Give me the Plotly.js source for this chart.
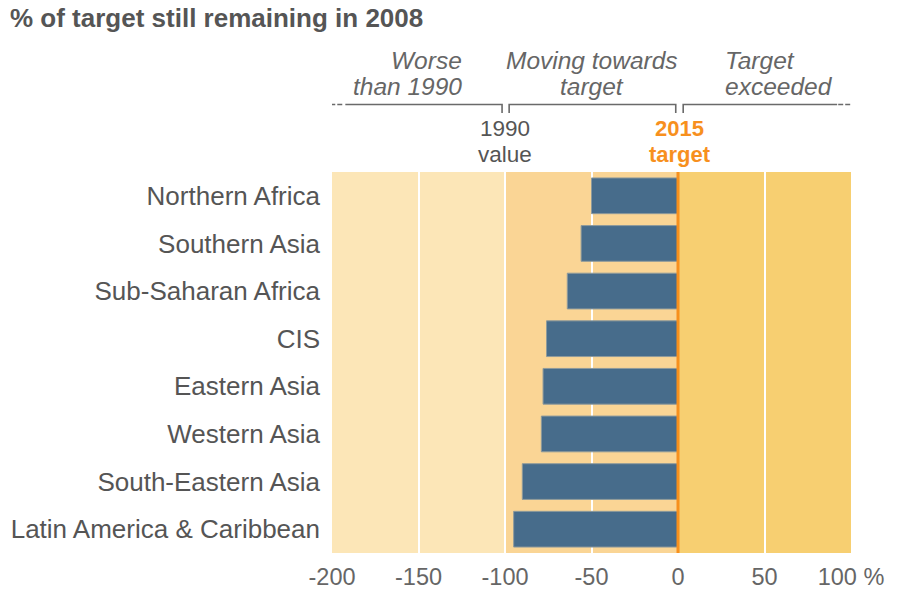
<!DOCTYPE html>
<html>
<head>
<meta charset="utf-8">
<script src="https://cdn.plot.ly/plotly-3.0.1.min.js"></script>
<style>html,body{margin:0;padding:0;background:#fff;}#chart{width:902px;height:591px;}</style>
</head>
<body>
<div id="chart"></div>
<script>
const regions = ["Northern Africa","Southern Asia","Sub-Saharan Africa","CIS","Eastern Asia","Western Asia","South-Eastern Asia","Latin America & Caribbean"];
const remaining = [-50,-56,-64,-76,-78,-79,-90,-95];
const tickValues = [-200,-150,-100,-50,0,50,100];
const tickLabels = ["-200","-150","-100","-50","0","50","100 %"];
const zoneBounds = [-200,-100,0,100];
const zoneColors = ["#FCE6B7","#FAD595","#F7CF71"];

const FONT = "Liberation Sans, Arial, Helvetica, sans-serif";
const GREY = "#555555";
const pY = py => (553 - py) / 381; // paper y from pixel for annotations/brackets

const shapes = [];
for (let i = 0; i < zoneColors.length; i++) {
  shapes.push({type:'rect', xref:'x', yref:'paper', x0:zoneBounds[i], x1:zoneBounds[i+1], y0:0, y1:1,
    fillcolor:zoneColors[i], line:{width:0}, layer:'below'});
}
// orange target line
shapes.push({type:'line', xref:'x', yref:'paper', x0:0, x1:0, y0:0, y1:1, line:{color:'#F7901E', width:3}, layer:'above'});
// brackets
const bl = {color:'#6a6a6a', width:1.6};
const yL = pY(104.5), yT = pY(113);
shapes.push({type:'line', xref:'x', yref:'paper', x0:-201, x1:-193, y0:yL, y1:yL, line:{color:'#6a6a6a', width:1.6, dash:'5px,2px'}});
shapes.push({type:'path', xref:'x', yref:'paper', path:`M -192.3 ${yL} L -101.7 ${yL} L -101.7 ${yT}`, line:bl});
shapes.push({type:'path', xref:'x', yref:'paper', path:`M -97.6 ${yT} L -97.6 ${yL} L -1.3 ${yL} L -1.3 ${yT}`, line:bl});
shapes.push({type:'path', xref:'x', yref:'paper', path:`M 3.0 ${yT} L 3.0 ${yL} L 92.0 ${yL}`, line:bl});
shapes.push({type:'line', xref:'x', yref:'paper', x0:92.6, x1:100.5, y0:yL, y1:yL, line:{color:'#6a6a6a', width:1.6, dash:'5px,2px'}});

const annFont = {family:FONT, size:24.5, color:'#666666'};
function ann(text, x, py, xanchor, font) {
  return {xref:'x', yref:'paper', x:x, y:pY(py), xanchor:xanchor, yanchor:'middle', showarrow:false,
    text:text, font:font, borderpad:0};
}
const annotations = [
  ann('<i>Worse</i>', -124, 60, 'right', annFont),
  ann('<i>than 1990</i>', -124, 86, 'right', annFont),
  ann('<i>Moving towards</i>', -50, 60, 'center', annFont),
  ann('<i>target</i>', -50, 86, 'center', annFont),
  ann('<i>Target</i>', 26.5, 60, 'left', annFont),
  ann('<i>exceeded</i>', 26.5, 86, 'left', annFont),
  ann('1990', -100, 128, 'center', {family:FONT, size:22.5, color:GREY}),
  ann('value', -100, 154, 'center', {family:FONT, size:22.5, color:GREY}),
  ann('<b>2015</b>', 1, 128, 'center', {family:FONT, size:22, color:'#F7901E'}),
  ann('<b>target</b>', 1, 154, 'center', {family:FONT, size:22, color:'#F7901E'})
];

const trace = {
  type:'bar', orientation:'h', y:regions, x:remaining, width:0.75,
  marker:{color:'#476C8B', line:{color:'#8E9A9C', width:1}},
  hoverinfo:'x+y'
};

const layout = {
  width:902, height:591,
  margin:{l:332, r:51, t:172, b:38},
  paper_bgcolor:'#ffffff', plot_bgcolor:'#ffffff',
  title:{text:'<b>% of target still remaining in 2008</b>', x:10/902, xref:'container', xanchor:'left',
    y:1-18/591, yref:'container', yanchor:'middle', font:{family:FONT, size:26, color:GREY}},
  xaxis:{range:[-200,100], tickvals:tickValues, ticktext:tickLabels, showgrid:true, gridcolor:'#ffffff', gridwidth:2,
    zeroline:false, showline:false, ticks:'', ticklabelstandoff:7, fixedrange:true,
    tickfont:{family:FONT, size:23.5, color:'#666666'}},
  yaxis:{autorange:'reversed', showgrid:false, zeroline:false, showline:false, ticks:'', ticklabelstandoff:11,
    tickfont:{family:FONT, size:26, color:GREY}, fixedrange:true},
  shapes:shapes, annotations:annotations,
  showlegend:false, bargap:0.25
};

Plotly.newPlot('chart', [trace], layout, {displayModeBar:false, staticPlot:true});
</script>
</body>
</html>
